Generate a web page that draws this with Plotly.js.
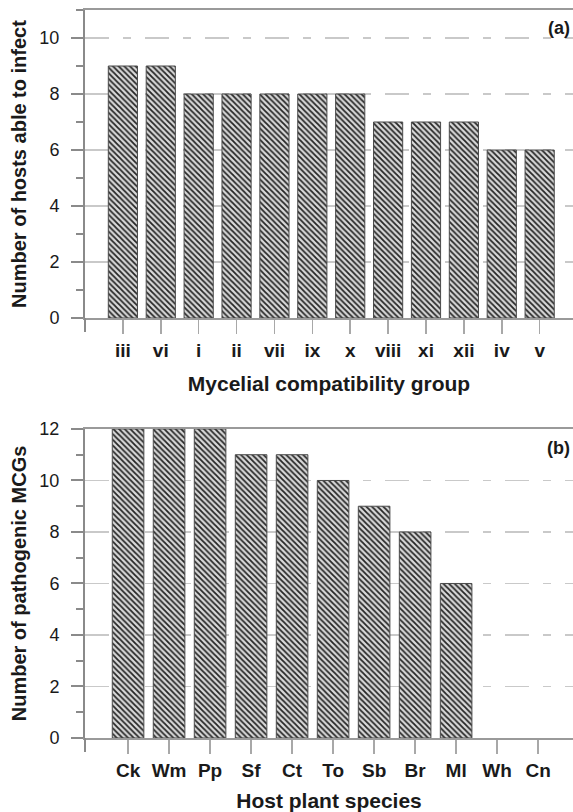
<!DOCTYPE html>
<html>
<head>
<meta charset="utf-8">
<script src="https://cdn.plot.ly/plotly-3.0.1.min.js"></script>
<style>html,body{margin:0;padding:0;background:#fff;}#chart{width:573px;height:812px;}</style>
</head>
<body>
<div id="chart"></div>
<script>
// Panel (a)
const mcgGroups = ['iii','vi','i','ii','vii','ix','x','viii','xi','xii','iv','v'];
const hostsInfected = [9, 9, 8, 8, 8, 8, 8, 7, 7, 7, 6, 6];
// Panel (b)
const hostSpecies = ['Ck','Wm','Pp','Sf','Ct','To','Sb','Br','Ml','Wh','Cn'];
const pathogenicMCGs = [12, 12, 12, 11, 11, 10, 9, 8, 6, 0, 0];
const panelLabels = ['(a)', '(b)'];

const FONT = 'Liberation Sans, Arial, sans-serif';
const pattern = {shape: '\\', size: 4, solidity: 0.45, fgcolor: '#262626', bgcolor: '#d9d9d9', fillmode: 'replace'};
function barMarker(vals) {
  return {color: '#555', pattern: pattern, line: {color: '#4a4a4a', width: vals.map(v => v > 0 ? 1 : 0)}};
}

const traces = [
  {type: 'bar', x: mcgGroups, y: hostsInfected, xaxis: 'x', yaxis: 'y', marker: barMarker(hostsInfected), hoverinfo: 'x+y'},
  {type: 'bar', x: hostSpecies, y: pathogenicMCGs, xaxis: 'x2', yaxis: 'y2', marker: barMarker(pathogenicMCGs), hoverinfo: 'x+y'}
];

function xAxis(anchor, range, title, standoff) {
  return {
    anchor: anchor, domain: [0, 1], type: 'category', range: range,
    ticks: 'outside', ticklen: 14, tickwidth: 1.5, tickcolor: '#a8a8a8',
    showline: true, linecolor: '#9a9a9a', linewidth: 2, mirror: true,
    showgrid: false, zeroline: false,
    tickfont: {family: FONT, size: 19, weight: 'bold', color: '#1a1a1a'},
    ticklabelstandoff: 0,
    title: {text: title, font: {family: FONT, size: 21, weight: 'bold', color: '#1a1a1a'}, standoff: standoff},
    automargin: false, fixedrange: true
  };
}
function yAxis(anchor, domain, range, title) {
  return {
    anchor: anchor, domain: domain, range: range, dtick: 2, tick0: 0,
    ticks: 'outside', ticklen: 12, tickwidth: 2, tickcolor: '#8a8a8a',
    minor: {dtick: 1, tick0: 0, ticks: 'outside', ticklen: 7, tickwidth: 2, tickcolor: '#8a8a8a', showgrid: false},
    showline: true, linecolor: '#8a8a8a', linewidth: 2,
    showgrid: true, gridcolor: '#c9c9c9', gridwidth: 1.5, griddash: '24px,14px,8px,14px',
    zeroline: false,
    tickfont: {family: FONT, size: 18, color: '#1a1a1a'},
    ticklabelstandoff: 8,
    title: {text: title, font: {family: FONT, size: 20, weight: 'bold', color: '#1a1a1a'}, standoff: 7},
    automargin: false, fixedrange: true
  };
}

const layout = {
  width: 573, height: 812,
  margin: {l: 85, r: 0, t: 10, b: 74},
  paper_bgcolor: '#fff', plot_bgcolor: '#fff',
  showlegend: false,
  xaxis: xAxis('y', [-1, 11.88], 'Mycelial compatibility group', 16),
  yaxis: yAxis('x', [0.5769, 1], [0, 11], 'Number of hosts able to infect'),
  xaxis2: xAxis('y2', [-1.05, 10.85], 'Host plant species', 15),
  yaxis2: yAxis('x2', [0, 0.4245], [0, 12], 'Number of pathogenic MCGs'),
  bargap: 0.23,
  annotations: [
    {text: '<b>' + panelLabels[0] + '</b>', xref: 'paper', yref: 'y domain', x: 0.998, y: 0.94, xanchor: 'right', yanchor: 'middle', showarrow: false, font: {family: FONT, size: 18, color: '#1a1a1a'}},
    {text: '<b>' + panelLabels[1] + '</b>', xref: 'paper', yref: 'y2 domain', x: 0.998, y: 0.94, xanchor: 'right', yanchor: 'middle', showarrow: false, font: {family: FONT, size: 18, color: '#1a1a1a'}}
  ],
  shapes: [
    {type: 'line', xref: 'paper', yref: 'y domain', x0: 0, x1: 0, y0: 0, y1: -0.045, line: {color: '#8a8a8a', width: 2}},
    {type: 'line', xref: 'paper', yref: 'y2 domain', x0: 0, x1: 0, y0: 0, y1: -0.045, line: {color: '#8a8a8a', width: 2}}
  ]
};

Plotly.newPlot('chart', traces, layout, {staticPlot: true, displayModeBar: false});
</script>
</body>
</html>
